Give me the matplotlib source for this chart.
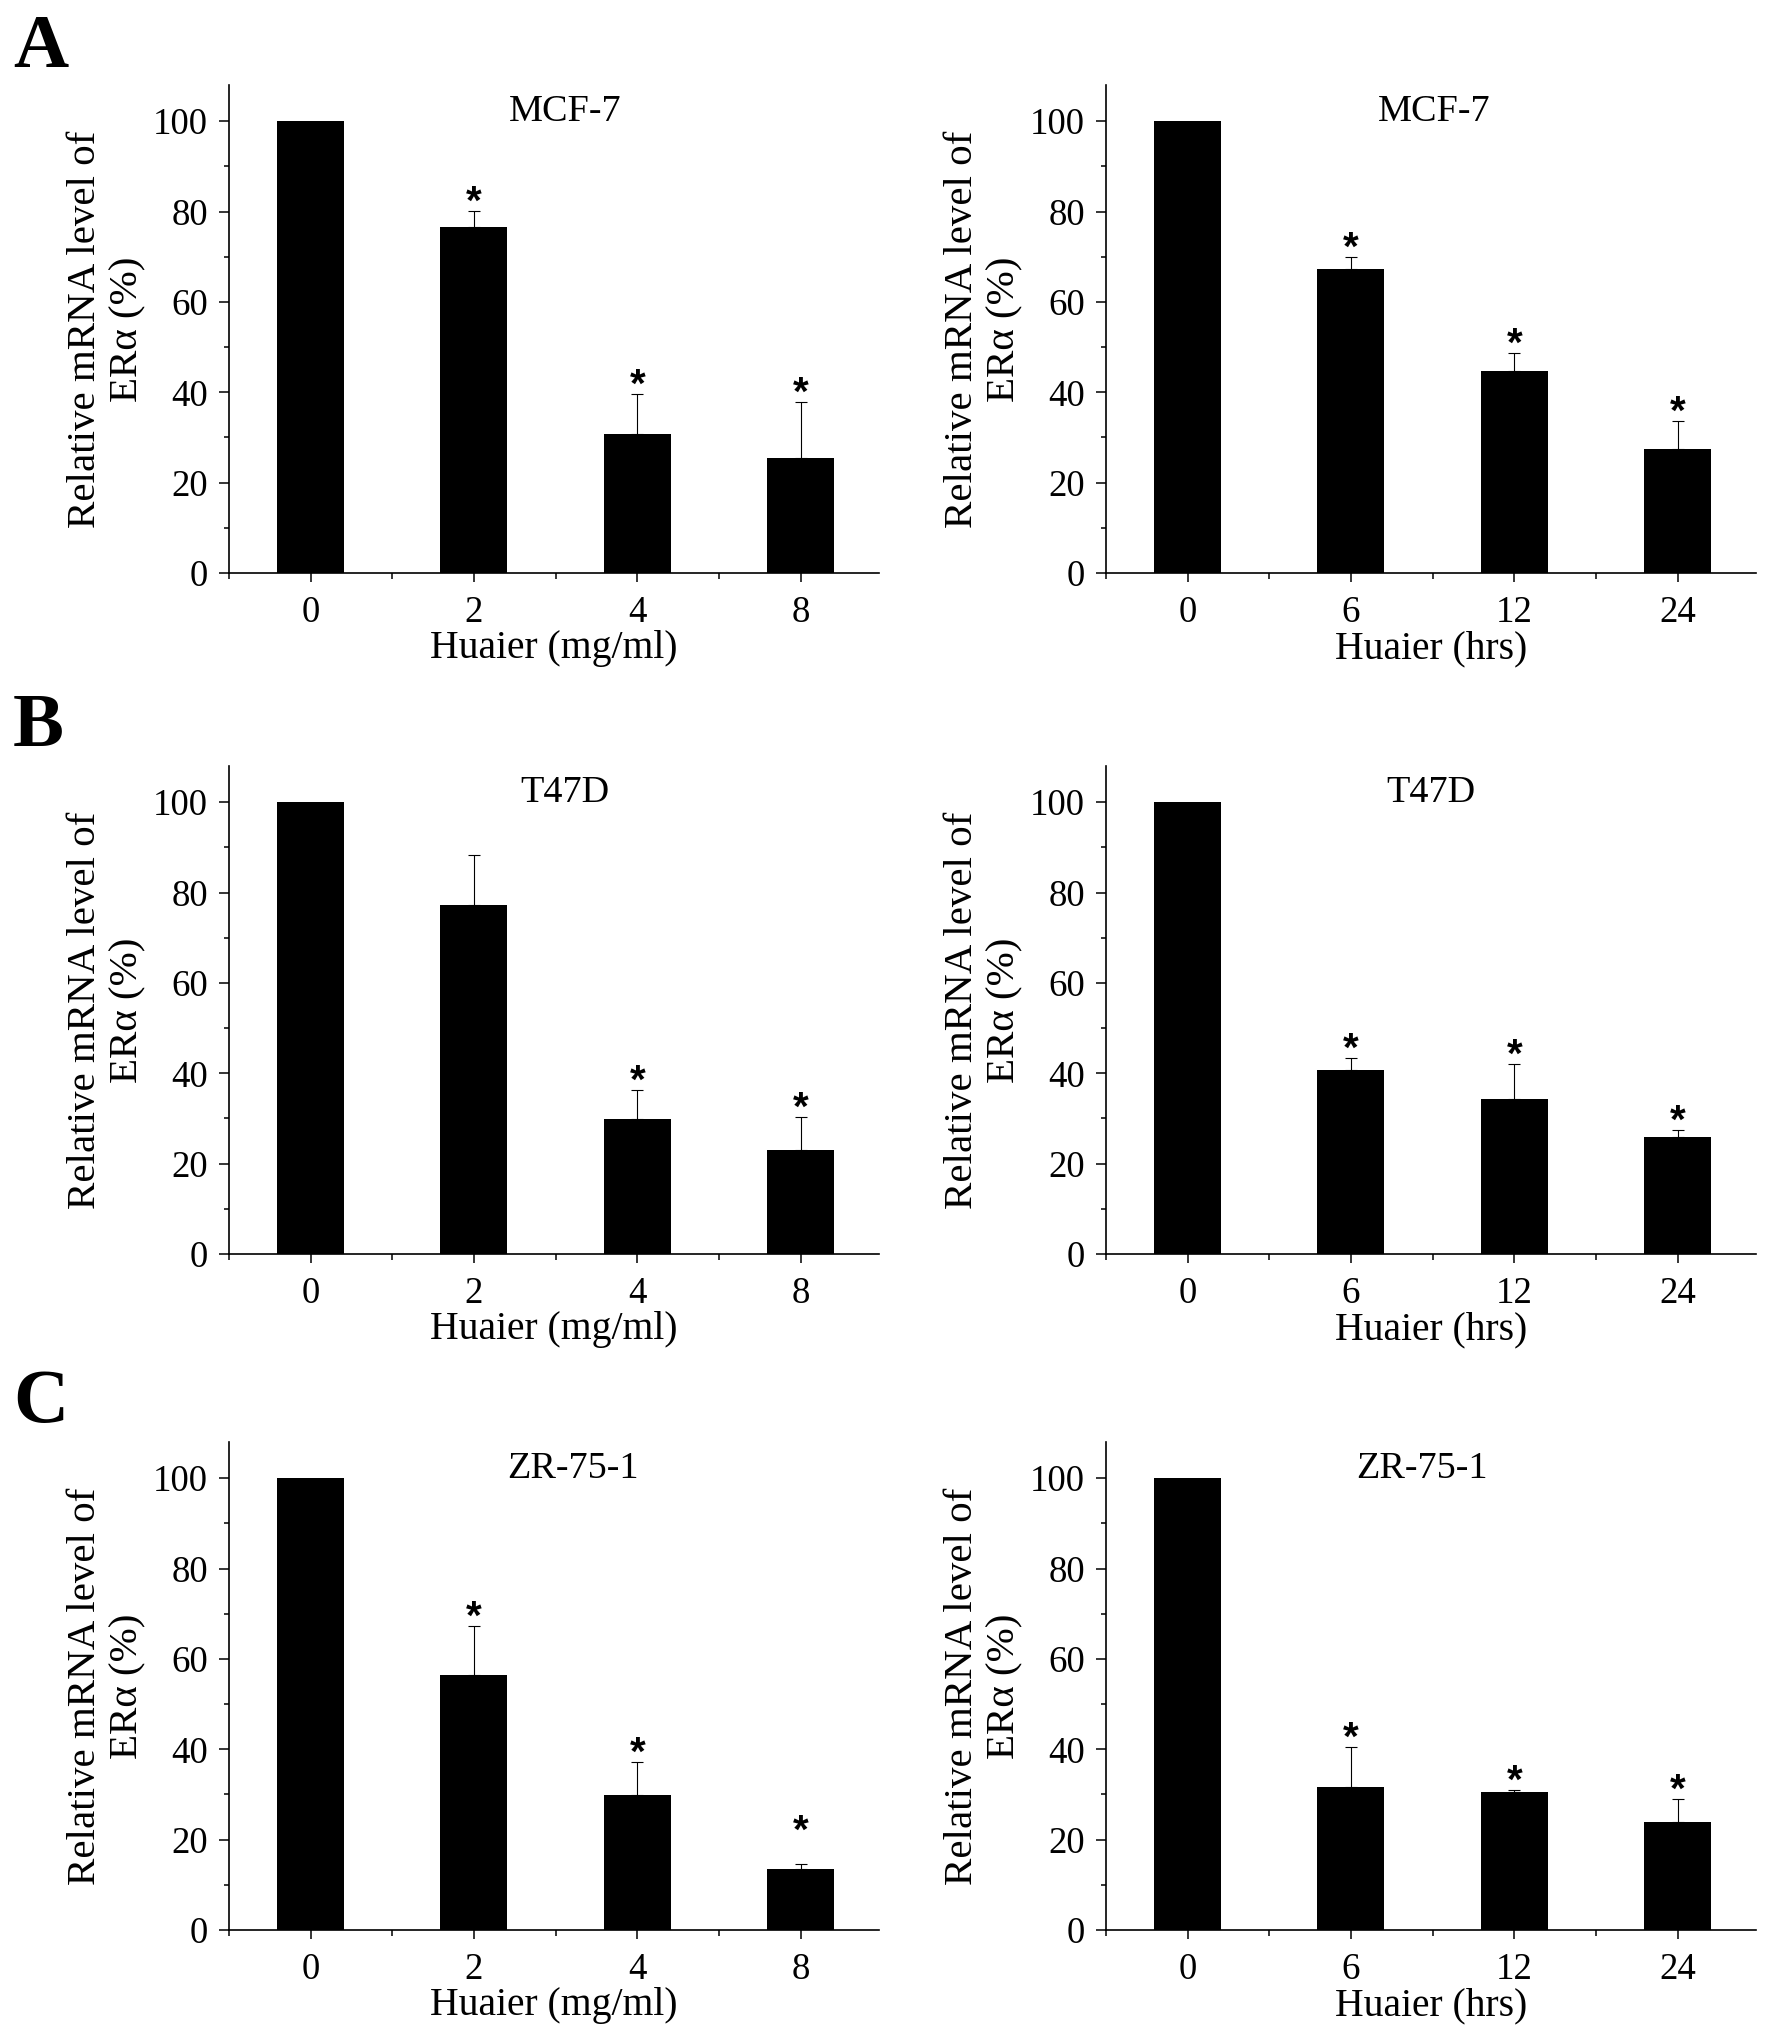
import numpy as np
import matplotlib
matplotlib.use("Agg")
import matplotlib.pyplot as plt
from matplotlib.ticker import MultipleLocator, FixedLocator

# Relative ERa mRNA level (%)
cell_lines = ["MCF-7", "T47D", "ZR-75-1"]
dose_labels = ["0", "2", "4", "8"]
time_labels = ["0", "6", "12", "24"]

dose_mean = [
    [100, 76.5, 30.8, 25.4],
    [100, 77.2, 29.8, 23.0],
    [100, 56.4, 29.8, 13.5],
]
dose_err = [
    [0, 3.7, 8.9, 12.4],
    [0, 11.2, 6.5, 7.3],
    [0, 10.8, 7.3, 1.1],
]
dose_sig = [
    [False, True, True, True],
    [False, False, True, True],
    [False, True, True, True],
]

time_mean = [
    [100, 67.3, 44.6, 27.4],
    [100, 40.8, 34.3, 26.0],
    [100, 31.6, 30.5, 24.0],
]
time_err = [
    [0, 2.6, 4.1, 6.2],
    [0, 2.6, 7.7, 1.5],
    [0, 8.8, 0.4, 4.9],
]
time_sig = [
    [False, True, True, True],
    [False, True, True, True],
    [False, True, True, True],
]

plt.rcParams["font.family"] = ["Liberation Serif", "DejaVu Serif"]

W, H = 1772, 2037
fig = plt.figure(figsize=(W / 100, H / 100), dpi=100)

col_left = [229 / W, 1106 / W]
ax_w = 650 / W
row_bottom = [1 - 573 / H, 1 - 1254 / H, 1 - 1930 / H]
ax_h = 488 / H
title_x = [[0.517, 0.505], [0.517, 0.50], [0.529, 0.486]]
letter_base = [67, 746, 1422]


def draw_panel(ax, means, errs, sig, ticklabels, xlabel, title, tx, star_extra=None):
    x = np.arange(len(means))
    ax.bar(x, means, width=0.41, color="black", zorder=2)
    idx = [i for i in x if errs[i] > 0]
    ax.errorbar([x[i] for i in idx], [means[i] for i in idx],
                yerr=[[0] * len(idx), [errs[i] for i in idx]],
                fmt="none", ecolor="black", elinewidth=0.8, capsize=4.5,
                capthick=0.8, zorder=3)
    for i in x:
        if sig[i]:
            lift = -2 + (star_extra or {}).get(i, 0)
            ax.annotate("*", xy=(i, means[i] + errs[i]), xytext=(0, lift),
                        textcoords="offset points", ha="center", va="baseline",
                        fontsize=29, fontweight="bold", family="Liberation Sans")

    ax.set_xlim(-0.5, 3.48)
    ax.set_ylim(0, 108)
    ax.set_xticks(x)
    ax.set_xticklabels(ticklabels)
    ax.xaxis.set_minor_locator(FixedLocator([-0.5, 0.5, 1.5, 2.5]))
    ax.yaxis.set_major_locator(MultipleLocator(20))
    ax.yaxis.set_minor_locator(MultipleLocator(10))
    for side in ["top", "right"]:
        ax.spines[side].set_visible(False)
    for side in ["left", "bottom"]:
        ax.spines[side].set_linewidth(1.2)
    ax.tick_params(axis="y", which="major", direction="out", length=7.2, width=1.1,
                   labelsize=26.5, pad=8)
    ax.tick_params(axis="y", which="minor", direction="out", length=3.6, width=1.1)
    ax.tick_params(axis="x", which="major", direction="out", length=6.2, width=1.1,
                   labelsize=26.5, pad=10)
    ax.tick_params(axis="x", which="minor", direction="out", length=4.3, width=1.1)

    ax.set_ylabel("Relative mRNA level of\nER\u03b1 (%)", fontsize=29.5)
    ax.yaxis.set_label_coords(-0.188, 0.5)
    ax.yaxis.label.set_va("center")
    ax.set_xlabel(xlabel, fontsize=28.5)
    ax.xaxis.set_label_coords(0.5, -0.174)
    ax.xaxis.label.set_va("baseline")
    ax.text(tx, 0.98, title, transform=ax.transAxes, ha="center", va="top", fontsize=27.5)


for r, cell in enumerate(cell_lines):
    ax = fig.add_axes([col_left[0], row_bottom[r], ax_w, ax_h])
    extra = {3: 17} if r == 2 else None
    draw_panel(ax, dose_mean[r], dose_err[r], dose_sig[r], dose_labels,
               "Huaier (mg/ml)", cell, title_x[r][0], extra)
    ax = fig.add_axes([col_left[1], row_bottom[r], ax_w, ax_h])
    draw_panel(ax, time_mean[r], time_err[r], time_sig[r], time_labels,
               "Huaier (hrs)", cell, title_x[r][1])

for letter, base in zip("ABC", letter_base):
    fig.text(13 / W, 1 - base / H, letter, fontsize=55, fontweight="bold",
             ha="left", va="baseline")

fig.savefig("out.png", dpi=100)
plt.close(fig)
